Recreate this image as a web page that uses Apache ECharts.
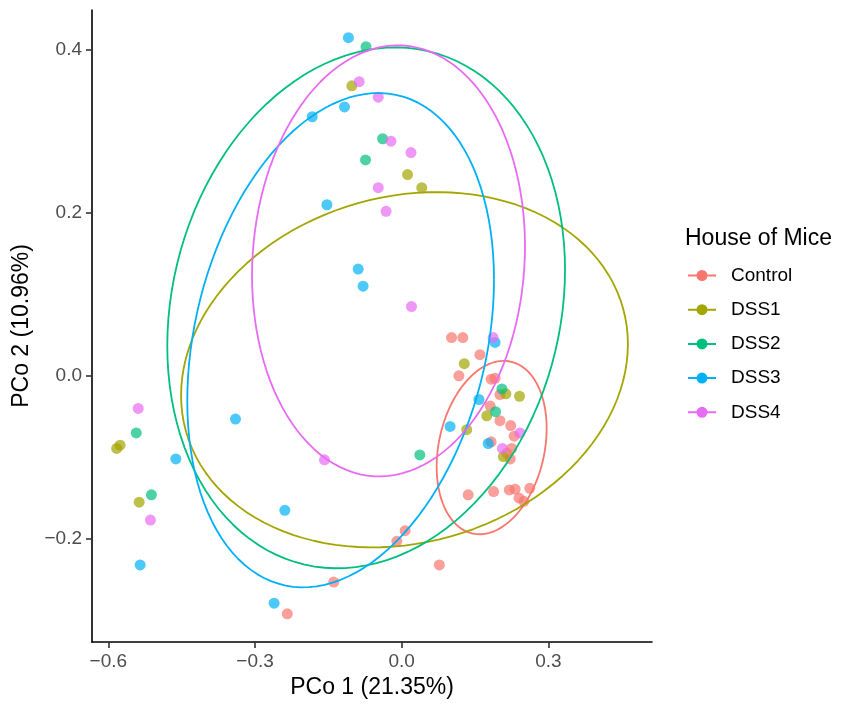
<!DOCTYPE html>
<html>
<head>
<meta charset="utf-8">
<script src="https://cdn.jsdelivr.net/npm/echarts@6/dist/echarts.min.js"></script>
<style>
html,body{margin:0;padding:0;background:#fff;}
#chart{width:841px;height:707px;}
</style>
</head>
<body>
<div id="chart"></div>
<script>
// ---- Data (PCo1, PCo2) ----
const groups = ['Control', 'DSS1', 'DSS2', 'DSS3', 'DSS4'];
const colors = ['#F8766D', '#A3A500', '#00BF7D', '#00B0F6', '#E76BF3'];

const control = [
  [0.102, 0.047], [0.125, 0.047], [0.160, 0.026], [0.117, 0.000], [0.183, -0.004],
  [0.191, -0.003], [0.201, -0.023], [0.181, -0.037], [0.201, -0.055], [0.223, -0.061],
  [0.230, -0.074], [0.183, -0.081], [0.225, -0.089], [0.215, -0.095], [0.222, -0.102],
  [0.136, -0.146], [0.188, -0.142], [0.220, -0.140], [0.232, -0.139], [0.262, -0.138],
  [0.240, -0.150], [0.250, -0.154], [0.007, -0.190], [-0.010, -0.203], [0.077, -0.232],
  [-0.139, -0.253], [-0.234, -0.292]
];
const dss1 = [
  [-0.102, 0.356], [0.012, 0.247], [0.041, 0.231], [0.128, 0.015], [0.213, -0.022],
  [0.241, -0.025], [0.174, -0.049], [0.133, -0.066], [0.208, -0.099], [-0.583, -0.089],
  [-0.576, -0.085], [-0.537, -0.155]
];
const dss2 = [
  [-0.073, 0.404], [-0.039, 0.291], [-0.074, 0.265], [0.205, -0.016], [0.192, -0.044],
  [0.037, -0.097], [-0.543, -0.070], [-0.512, -0.146]
];
const dss3 = [
  [-0.109, 0.415], [-0.117, 0.330], [-0.183, 0.318], [-0.153, 0.210], [-0.089, 0.131],
  [-0.079, 0.110], [0.191, 0.041], [0.158, -0.029], [0.099, -0.062], [0.177, -0.083],
  [-0.340, -0.053], [-0.462, -0.102], [-0.239, -0.165], [-0.535, -0.232], [-0.261, -0.279]
];
const dss4 = [
  [-0.087, 0.361], [-0.048, 0.342], [-0.022, 0.288], [0.019, 0.274], [-0.048, 0.231],
  [-0.032, 0.202], [0.020, 0.085], [0.187, 0.047], [0.242, -0.070], [0.206, -0.089],
  [-0.539, -0.040], [-0.514, -0.177], [-0.158, -0.103]
];
const groupData = [control, dss1, dss2, dss3, dss4];

// ---- 95% ellipse summaries per group ----
const ellipseCenterX   = [0.184, 0.0057, -0.0727, -0.1249, -0.027];
const ellipseCenterY   = [-0.088, 0.0075, 0.0835, 0.0438, 0.1411];
const ellipseHalfWidth = [0.1125, 0.457, 0.4068, 0.3137, 0.2792];
const ellipseHalfHeight= [0.1064, 0.218, 0.3196, 0.3033, 0.2645];
const ellipseTilt      = [0.22, 0.144, 0.146, 0.245, 0.068]; // sine of phase shift (correlation)

const xTicks = [-0.6, -0.3, 0.0, 0.3];
const yTicks = [-0.2, 0.0, 0.2, 0.4];
const xTitle = 'PCo 1 (21.35%)';
const yTitle = 'PCo 2 (10.96%)';
const legendTitle = 'House of Mice';

function ellipsePoints(i) {
  const segments = 120;
  const cx = ellipseCenterX[i], cy = ellipseCenterY[i];
  const rx = ellipseHalfWidth[i], ry = ellipseHalfHeight[i];
  const sp = ellipseTilt[i], cp = Math.sqrt(1 - sp * sp);
  const out = [];
  for (let k = 0; k <= segments; k++) {
    const t = k * 2 * Math.PI / segments;
    out.push([cx + rx * Math.cos(t), cy + ry * (Math.sin(t) * cp + Math.cos(t) * sp)]);
  }
  return out;
}

const FONT = '"Liberation Sans", Arial, Helvetica, sans-serif';
const minus = s => s.replace('-', '\u2212');
const legendIcon = 'path://M0,6 L28,6 L28,8 L0,8 Z M8.5,7 A5.5,5.5 0 1 1 19.5,7 A5.5,5.5 0 1 1 8.5,7 Z';

const series = [];
groups.forEach((g, i) => {
  series.push({
    name: g, type: 'scatter', data: groupData[i], symbolSize: 11,
    itemStyle: { color: colors[i], opacity: 0.7 }, z: 2, silent: true
  });
});
groups.forEach((g, i) => {
  series.push({
    name: g, type: 'line', data: ellipsePoints(i), showSymbol: false,
    symbol: 'none', smooth: false, lineStyle: { color: colors[i], width: 1.8 },
    itemStyle: { color: colors[i] }, z: 3, silent: true, animation: false
  });
});

const chart = echarts.init(document.getElementById('chart'), null, { renderer: 'canvas' });
chart.setOption({
  animation: false,
  backgroundColor: '#ffffff',
  title: {
    text: legendTitle, left: 685, top: 227, padding: 0,
    textStyle: { fontFamily: FONT, fontSize: 23, fontWeight: 'normal', color: '#000' }
  },
  legend: {
    orient: 'vertical', left: 688, top: 266, padding: 0,
    itemWidth: 28, itemHeight: 11, itemGap: 15.2,
    data: groups.map((g, i) => ({ name: g, icon: legendIcon, itemStyle: { color: colors[i], opacity: 1 } })),
    textStyle: { fontFamily: FONT, fontSize: 19, color: '#000', padding: [0, 0, 0, 10] },
    selectedMode: false
  },
  grid: { left: 92, top: 10, width: 560, height: 632, containLabel: false },
  xAxis: {
    type: 'value', min: -0.6335, max: 0.512,
    name: xTitle, nameLocation: 'middle', nameGap: 34,
    nameTextStyle: { fontFamily: FONT, fontSize: 23, color: '#000' },
    axisLine: { show: true, onZero: false, lineStyle: { color: '#000', width: 1.6 } },
    axisTick: { show: true, length: 6, customValues: xTicks, lineStyle: { color: '#333', width: 1.6 } },
    axisLabel: { customValues: xTicks, margin: 10, fontFamily: FONT, fontSize: 19, color: '#4D4D4D',
      formatter: v => minus(Number(v).toFixed(1)) },
    splitLine: { show: false }
  },
  yAxis: {
    type: 'value', min: -0.3266, max: 0.449,
    name: yTitle, nameLocation: 'middle', nameGap: 55,
    nameTextStyle: { fontFamily: FONT, fontSize: 23, color: '#000' },
    axisLine: { show: true, onZero: false, lineStyle: { color: '#000', width: 1.6 } },
    axisTick: { show: true, length: 6, customValues: yTicks, lineStyle: { color: '#333', width: 1.6 } },
    axisLabel: { customValues: yTicks, margin: 10, fontFamily: FONT, fontSize: 19, color: '#4D4D4D',
      formatter: v => minus(Number(v).toFixed(1)) },
    splitLine: { show: false }
  },
  series: series
});
</script>
</body>
</html>
